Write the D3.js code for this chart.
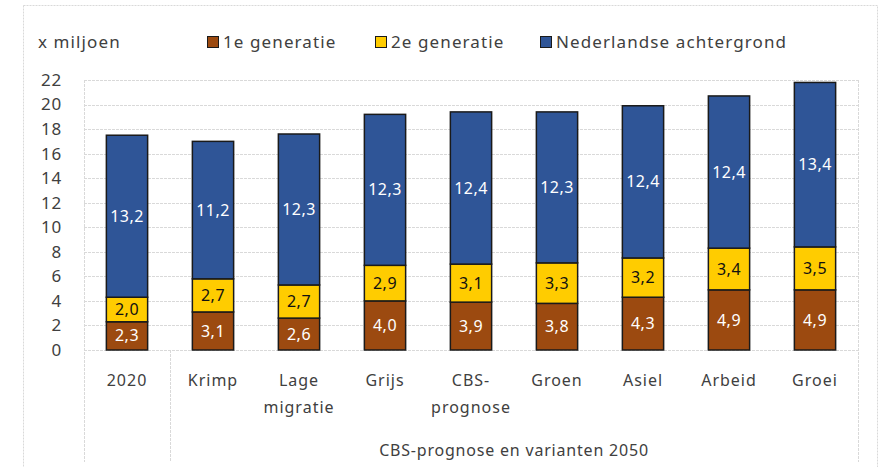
<!DOCTYPE html>
<html>
<head>
<meta charset="utf-8">
<script src="https://cdn.jsdelivr.net/npm/d3@7"></script>
<style>
  body { margin: 0; background: #fff; }
  text { font-family: "Noto Sans", "Open Sans", sans-serif; }
</style>
</head>
<body>
<div id="viz"></div>
<script>
const categories = ["2020", "Krimp", "Lage migratie", "Grijs", "CBS-prognose", "Groen", "Asiel", "Arbeid", "Groei"];
const categoryLines = [["2020"], ["Krimp"], ["Lage", "migratie"], ["Grijs"], ["CBS-", "prognose"], ["Groen"], ["Asiel"], ["Arbeid"], ["Groei"]];
const eersteGeneratie = [2.3, 3.1, 2.6, 4.0, 3.9, 3.8, 4.3, 4.9, 4.9];
const tweedeGeneratie = [2.0, 2.7, 2.7, 2.9, 3.1, 3.3, 3.2, 3.4, 3.5];
const nederlands = [13.2, 11.2, 12.3, 12.3, 12.4, 12.3, 12.4, 12.4, 13.4];
const seriesNames = ["1e generatie", "2e generatie", "Nederlandse achtergrond"];
const yTicks = [0, 2, 4, 6, 8, 10, 12, 14, 16, 18, 20, 22];

const width = 882;
const height = 467;
const margin = { left: 84, right: 24, top: 80, bottom: 117 };

const svg = d3.select('#viz').append('svg')
    .attr('width', width)
    .attr('height', height);

// outer chart frame
svg.append('rect')
    .attr('x', 23.5).attr('y', 5.5)
    .attr('width', 854).attr('height', 470)
    .attr('fill', 'none')
    .attr('stroke', '#d9d9d9')
    .attr('stroke-dasharray', '2,1');

const x = d3.scaleBand()
    .domain(categories)
    .range([margin.left, width - margin.right])
    .paddingInner(0.52)
    .paddingOuter(0.26);

const y = d3.scaleLinear()
    .domain([0, 22])
    .range([height - margin.bottom, margin.top]);

const rows = categories.map((c, i) => ({
    cat: c,
    e1: eersteGeneratie[i],
    e2: tweedeGeneratie[i],
    nl: nederlands[i]
}));

const stack = d3.stack().keys(["e1", "e2", "nl"]);
const layers = stack(rows);
const colors = ["#9c4a10", "#ffcc00", "#2f5597"];
const labelColors = ["#ffffff", "#111111", "#ffffff"];

// gridlines
svg.append('g')
    .selectAll('line')
    .data(yTicks)
    .join('line')
    .attr('x1', margin.left).attr('x2', width - margin.right)
    .attr('y1', d => Math.round(y(d)) + 0.5).attr('y2', d => Math.round(y(d)) + 0.5)
    .attr('stroke', '#d9d9d9')
    .attr('stroke-dasharray', '3,1');

// plot area side lines + category separator
const xl = margin.left, xr = width - margin.right;
const sep = (x(categories[0]) + x.bandwidth() + x(categories[1])) / 2;
[[xl, margin.top, 462], [xr, margin.top, 462], [sep, y(0), 462]].forEach(([lx, y1, y2]) => {
    svg.append('line')
        .attr('x1', Math.round(lx) + 0.5).attr('x2', Math.round(lx) + 0.5)
        .attr('y1', y1).attr('y2', y2)
        .attr('stroke', '#d9d9d9')
        .attr('stroke-dasharray', '3,1');
});

// y axis labels
const yAxis = d3.axisLeft(y).tickValues(yTicks).tickSize(0).tickPadding(0);
const gy = svg.append('g').attr('transform', `translate(62,0)`).call(yAxis);
gy.select('.domain').remove();
gy.selectAll('text')
    .attr('font-size', 17)
    .attr('fill', '#404040')
    .style('letter-spacing', '0.8px')
    .style('font-family', '"Noto Sans", sans-serif');

svg.append('text')
    .attr('x', 38).attr('y', 48)
    .attr('font-size', 17)
    .attr('fill', '#404040')
    .style('letter-spacing', '1.1px')
    .text('x miljoen');

// bars
layers.forEach((layer, li) => {
    const g = svg.append('g');
    g.selectAll('rect')
        .data(layer)
        .join('rect')
        .attr('x', d => x(d.data.cat))
        .attr('y', d => y(d[1]))
        .attr('width', x.bandwidth())
        .attr('height', d => y(d[0]) - y(d[1]))
        .attr('fill', colors[li])
        .attr('stroke', '#1a1a1a')
        .attr('stroke-width', 1.5);
    g.selectAll('text')
        .data(layer)
        .join('text')
        .attr('x', d => x(d.data.cat) + x.bandwidth() / 2)
        .attr('y', d => (y(d[0]) + y(d[1])) / 2)
        .attr('dy', '0.35em')
        .attr('text-anchor', 'middle')
        .attr('font-size', 16)
        .style('letter-spacing', '0.5px')
        .attr('fill', labelColors[li])
        .text(d => d3.format('.1f')(d[1] - d[0]).replace('.', ','));
});

// category labels
const gx = svg.append('g');
categories.forEach((c, i) => {
    const t = gx.append('text')
        .attr('x', x(c) + x.bandwidth() / 2)
        .attr('y', 386)
        .attr('text-anchor', 'middle')
        .attr('font-size', 16)
        .style('letter-spacing', '1px')
        .attr('fill', '#404040');
    categoryLines[i].forEach((line, j) => {
        t.append('tspan')
            .attr('x', x(c) + x.bandwidth() / 2)
            .attr('dy', j === 0 ? 0 : 27)
            .text(line);
    });
});

svg.append('text')
    .attr('x', (sep + xr) / 2)
    .attr('y', 456)
    .attr('text-anchor', 'middle')
    .attr('font-size', 16)
    .style('letter-spacing', '0.8px')
    .attr('fill', '#404040')
    .text('CBS-prognose en varianten 2050');

// legend
const legendX = [207, 375, 540];
seriesNames.forEach((name, i) => {
    svg.append('rect')
        .attr('x', legendX[i] + 0.5).attr('y', 36.5)
        .attr('width', 11).attr('height', 11)
        .attr('fill', colors[i])
        .attr('stroke', '#1a1a1a');
    svg.append('text')
        .attr('x', legendX[i] + 16)
        .attr('y', 48)
        .attr('font-size', 17)
        .style('letter-spacing', '1.1px')
        .attr('fill', '#404040')
        .text(name);
});
</script>
</body>
</html>
